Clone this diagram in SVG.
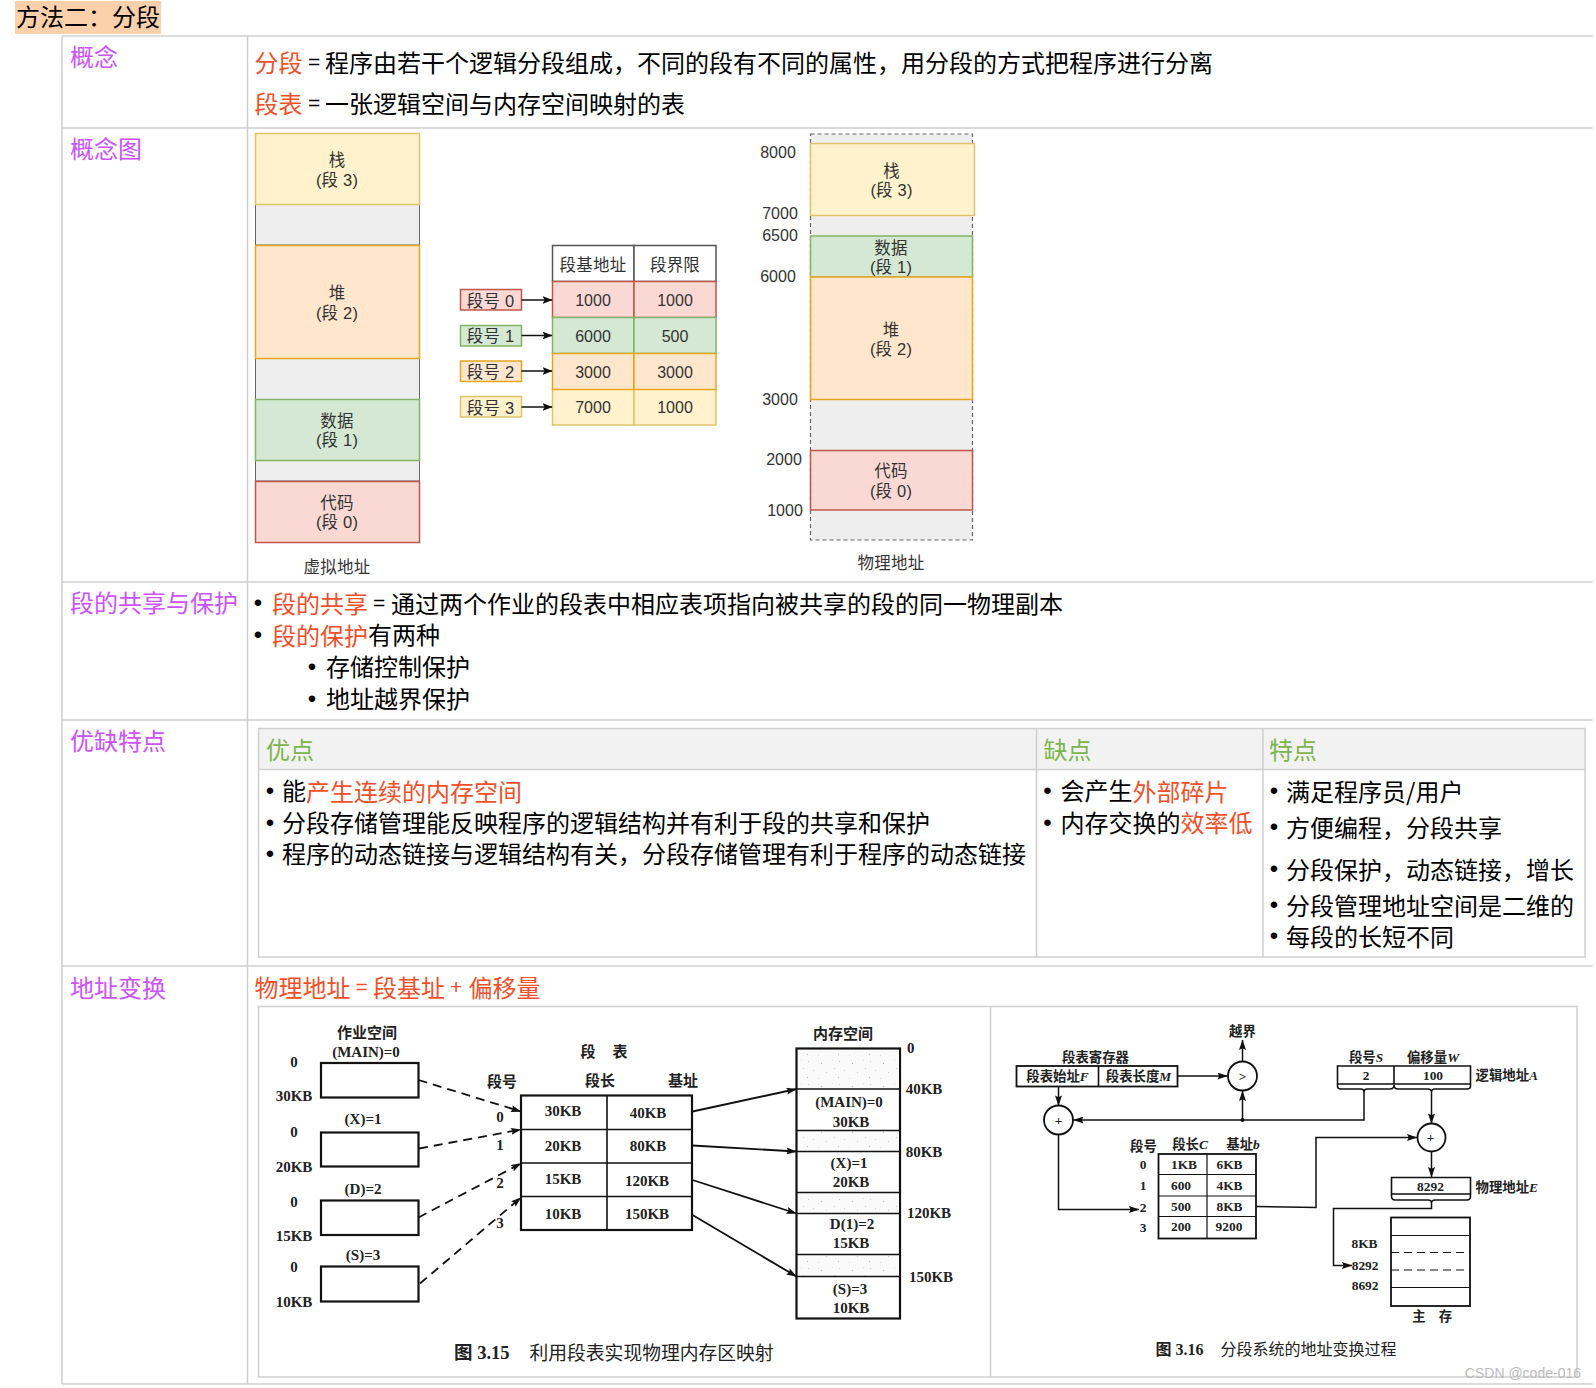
<svg xmlns="http://www.w3.org/2000/svg" width="1596" height="1388" viewBox="0 0 1596 1388">
<style>
text{font-family:"Noto Sans CJK SC","Noto Sans",sans-serif;white-space:pre}
.t,.h,.g{transform:translateY(-2.3px)}
.t{font-size:24px;fill:#000;dominant-baseline:central}
.h{font-size:24px;fill:#cc52ff;dominant-baseline:central}
.g{font-size:24px;fill:#7cb54e;dominant-baseline:central}
.r{fill:#f2502a}
.eq{font-family:"Liberation Sans",sans-serif;font-size:21px}
.b{font-size:24px;fill:#000;text-anchor:middle;dominant-baseline:central;font-family:"Liberation Sans",sans-serif;transform:translateY(-1.5px)}
.d{font-size:16px;fill:#333;text-anchor:middle;dominant-baseline:central;font-family:"Liberation Sans","Noto Sans CJK SC",sans-serif}
.dc{font-size:16.5px;letter-spacing:.2px}
.s{font-size:15px;font-weight:bold;fill:#222;text-anchor:middle;dominant-baseline:central;font-family:"Liberation Serif","Noto Sans CJK SC",serif}
.m{font-size:13.4px;font-weight:bold;fill:#222;text-anchor:middle;dominant-baseline:central;font-family:"Liberation Serif","Noto Sans CJK SC",serif;transform:translateY(-1px)}
.ml{text-anchor:start}.me{text-anchor:end}
.cap{font-weight:normal;text-anchor:start;fill:#222}
.line{stroke:#cfcfcf;stroke-width:1.5;fill:none}
.y{fill:#fff2cc;stroke:#e0c46c;stroke-width:1.5}
.o{fill:#ffe6cc;stroke:#e3a720;stroke-width:1.5}
.n{fill:#d5e8d4;stroke:#82b366;stroke-width:1.5}
.p{fill:#fad9d5;stroke:#c0584a;stroke-width:1.5}
.e{fill:#eeeeee;stroke:#666;stroke-width:1}
.w{fill:#fff;stroke:#555;stroke-width:1.5}
.k{fill:#fff;stroke:#111;stroke-width:2.2}
.kn{fill:none;stroke:#111;stroke-width:1.6}
.sp{fill:url(#speck);stroke:none}
.c{fill:none;stroke:#111;stroke-width:1.5}
.dash{stroke-dasharray:9 6;stroke-width:1.8}
</style>
<defs>
<marker id="a" viewBox="0 0 10 8" refX="9.5" refY="4" markerWidth="10" markerHeight="8" markerUnits="userSpaceOnUse" orient="auto"><path d="M0 0L10 4L0 8L2 4Z" fill="#111"/></marker>
<marker id="a2" viewBox="0 0 12 8" refX="11.5" refY="4" markerWidth="12" markerHeight="7" markerUnits="userSpaceOnUse" orient="auto"><path d="M0 0L12 4L0 8L2 4Z" fill="#111"/></marker>
<pattern id="speck" width="31" height="23" patternUnits="userSpaceOnUse">
<rect width="31" height="23" fill="#fafafa"/>
<rect x="2" y="3" width="1" height="1" fill="#ccc"/><rect x="15" y="5" width="1" height="1" fill="#bbb"/><rect x="26" y="2" width="1" height="1" fill="#ddd"/><rect x="7" y="12" width="1" height="1" fill="#ccc"/><rect x="20" y="14" width="1" height="1" fill="#ccc"/><rect x="1" y="19" width="1" height="1" fill="#bbb"/><rect x="12" y="20" width="1" height="1" fill="#ddd"/><rect x="28" y="10" width="1" height="1" fill="#ccc"/>
</pattern>
</defs>
<rect width="1596" height="1388" fill="#fff"/>

<g id="title"><rect x="15" y="1" width="146" height="33" fill="#fdd0ac"/><text class="t" x="16" y="18">方法二：分段</text></g>

<g id="grid" class="line">
<path d="M62 36H1593M62 128H1593M62 582H1593M62 720H1593M62 966H1593M62 1384H1593M62 36V1384M247.5 36V1384"/>
</g>

<g id="row-concept">
<text class="h" x="70" y="58">概念</text>
<text class="t r" x="254.5" y="63.5">分段</text><text class="t eq" x="308" y="63.5">=</text><text class="t" x="325" y="63.5">程序由若干个逻辑分段组成，不同的段有不同的属性，用分段的方式把程序进行分离</text>
<text class="t r" x="254.5" y="104.5">段表</text><text class="t eq" x="308" y="104.5">=</text><text class="t" x="325" y="104.5">一张逻辑空间与内存空间映射的表</text>
</g>

<g id="row-diagram"><text class="h" x="70" y="150">概念图</text></g>

<g id="virtual-address">
<g id="v-gap1"><rect class="e" x="255.5" y="204.5" width="164" height="40.5"/></g>
<g id="v-gap2"><rect class="e" x="255.5" y="358.5" width="164" height="41"/></g>
<g id="v-gap3"><rect class="e" x="255.5" y="460.5" width="164" height="20.5"/></g>
<g id="v-stack"><rect class="y" x="255.5" y="133.5" width="164" height="71"/><text class="d dc" x="337" y="160">栈</text><text class="d dc" x="337" y="180">(段 3)</text></g>
<g id="v-heap"><rect class="o" x="255.5" y="245.5" width="164" height="113"/><text class="d dc" x="337" y="293">堆</text><text class="d dc" x="337" y="313">(段 2)</text></g>
<g id="v-data"><rect class="n" x="255.5" y="399.5" width="164" height="61"/><text class="d dc" x="337" y="421">数据</text><text class="d dc" x="337" y="440">(段 1)</text></g>
<g id="v-code"><rect class="p" x="255.5" y="481.5" width="164" height="61"/><text class="d dc" x="337" y="503">代码</text><text class="d dc" x="337" y="522">(段 0)</text></g>
<text class="d dc" x="337" y="567">虚拟地址</text>
</g>

<g id="segment-table">
<g id="seg-head"><rect class="w" x="552.5" y="245.5" width="81.5" height="36"/><rect class="w" x="634" y="245.5" width="82" height="36"/><text class="d dc" x="593" y="264.5">段基地址</text><text class="d dc" x="675" y="264.5">段界限</text></g>
<g id="seg-0"><rect class="p" x="552.5" y="281.5" width="81.5" height="36"/><rect class="p" x="634" y="281.5" width="82" height="36"/><text class="d" x="593" y="300.5">1000</text><text class="d" x="675" y="300.5">1000</text></g>
<g id="seg-1"><rect class="n" x="552.5" y="317.5" width="81.5" height="36"/><rect class="n" x="634" y="317.5" width="82" height="36"/><text class="d" x="593" y="336">6000</text><text class="d" x="675" y="336">500</text></g>
<g id="seg-3"><rect class="y" x="552.5" y="389" width="81.5" height="36"/><rect class="y" x="634" y="389" width="82" height="36"/><text class="d" x="593" y="407.5">7000</text><text class="d" x="675" y="407.5">1000</text></g>
<g id="seg-2"><rect class="o" x="552.5" y="353.5" width="81.5" height="36"/><rect class="o" x="634" y="353.5" width="82" height="36"/><text class="d" x="593" y="372">3000</text><text class="d" x="675" y="372">3000</text></g>
<g id="no-0"><rect class="p" x="460.5" y="289.5" width="61" height="20.5"/><text class="d dc" x="490.5" y="300.5">段号 0</text></g>
<g id="no-1"><rect class="n" x="460.5" y="325.5" width="61" height="20.5"/><text class="d dc" x="490.5" y="336">段号 1</text></g>
<g id="no-2"><rect class="o" x="460.5" y="361" width="61" height="20.5"/><text class="d dc" x="490.5" y="372">段号 2</text></g>
<g id="no-3"><rect class="y" x="460.5" y="396.5" width="61" height="20.5"/><text class="d dc" x="490.5" y="407.5">段号 3</text></g>
</g>

<g id="physical-address">
<rect x="810.5" y="134" width="162" height="406" fill="#eeeeee" stroke="#666" stroke-width="1.2" stroke-dasharray="4 3"/>
<g id="p-stack"><rect class="y" x="810.5" y="143.5" width="164" height="72"/><text class="d dc" x="891.5" y="170.5">栈</text><text class="d dc" x="891.5" y="190">(段 3)</text></g>
<g id="p-data"><rect class="n" x="810.5" y="236" width="162" height="41"/><text class="d dc" x="891" y="247.5">数据</text><text class="d dc" x="891" y="266.5">(段 1)</text></g>
<g id="p-heap"><rect class="o" x="810.5" y="277" width="162" height="122.5"/><text class="d dc" x="891" y="329.5">堆</text><text class="d dc" x="891" y="348.5">(段 2)</text></g>
<g id="p-code"><rect class="p" x="810.5" y="450.5" width="162" height="59.5"/><text class="d dc" x="891" y="471">代码</text><text class="d dc" x="891" y="490.5">(段 0)</text></g>
<text class="d" x="778" y="152">8000</text><text class="d" x="780" y="213">7000</text><text class="d" x="780" y="235.5">6500</text><text class="d" x="778" y="276.5">6000</text><text class="d" x="780" y="399">3000</text><text class="d" x="784" y="459">2000</text><text class="d" x="785" y="510">1000</text>
<text class="d dc" x="891" y="563">物理地址</text>
</g>

<g id="row-share">
<text class="h" x="70" y="604">段的共享与保护</text>
<text class="b" x="258" y="604">•</text><text class="t r" x="272" y="604.5">段的共享</text><text class="t eq" x="373" y="604.5">=</text><text class="t" x="391" y="604.5">通过两个作业的段表中相应表项指向被共享的段的同一物理副本</text>
<text class="b" x="258" y="636">•</text><text class="t" x="272" y="636"><tspan class="r">段的保护</tspan>有两种</text>
<text class="b" x="312" y="668">•</text><text class="t" x="326" y="668">存储控制保护</text>
<text class="b" x="312" y="700">•</text><text class="t" x="326" y="700">地址越界保护</text>
</g>

<g id="row-features">
<text class="h" x="70" y="742">优缺特点</text>
<rect x="258.5" y="728.5" width="1326.5" height="41" fill="#f2f2f2"/>
<path class="line" d="M258.5 728.5H1585V957H258.5ZM258.5 769.5H1585M1036.5 728.5V957M1263 728.5V957"/>
<text class="g" x="266" y="750.5">优点</text><text class="g" x="1043.5" y="750.5">缺点</text><text class="g" x="1269" y="750.5">特点</text>
<g id="pros">
<text class="b" x="270" y="792">•</text><text class="t" x="282" y="792">能<tspan class="r">产生连续的内存空间</tspan></text>
<text class="b" x="270" y="823.5">•</text><text class="t" x="282" y="823.5">分段存储管理能反映程序的逻辑结构并有利于段的共享和保护</text>
<text class="b" x="270" y="855">•</text><text class="t" x="282" y="855">程序的动态链接与逻辑结构有关，分段存储管理有利于程序的动态链接</text>
</g>
<g id="cons">
<text class="b" x="1047.5" y="792">•</text><text class="t" x="1060.5" y="792">会产生<tspan class="r">外部碎片</tspan></text>
<text class="b" x="1047.5" y="823.5">•</text><text class="t" x="1060.5" y="823.5">内存交换的<tspan class="r">效率低</tspan></text>
</g>
<g id="traits">
<text class="b" x="1274" y="792">•</text><text class="t" x="1286" y="793">满足程序员/用户</text>
<text class="b" x="1274" y="828">•</text><text class="t" x="1286" y="829">方便编程，分段共享</text>
<text class="b" x="1274" y="870">•</text><text class="t" x="1286" y="871">分段保护，动态链接，增长</text>
<text class="b" x="1274" y="906">•</text><text class="t" x="1286" y="907">分段管理地址空间是二维的</text>
<text class="b" x="1274" y="937">•</text><text class="t" x="1286" y="938">每段的长短不同</text>
</g>
</g>

<g id="row-translate">
<text class="h" x="70" y="988.5">地址变换</text>
<text class="t r" x="254.5" y="988.5">物理地址</text><text class="t r eq" x="355.5" y="988.5">=</text><text class="t r" x="373" y="988.5">段基址</text><text class="t r eq" x="450" y="988.5">+</text><text class="t r" x="468.5" y="988.5">偏移量</text>
<path class="line" d="M258.5 1006.5H1577V1377H258.5ZM990.5 1006.5V1377"/>
</g>

<g id="fig315">
<g id="job-main"><rect class="k" x="321" y="1063" width="97.5" height="34.5"/><text class="s" x="367" y="1033">作业空间</text><text class="s" x="366" y="1052">(MAIN)=0</text><text class="s" x="294" y="1062">0</text><text class="s" x="294" y="1096">30KB</text></g>
<g id="job-x"><rect class="k" x="321" y="1132.5" width="97.5" height="34"/><text class="s" x="363" y="1119">(X)=1</text><text class="s" x="294" y="1132">0</text><text class="s" x="294" y="1167">20KB</text></g>
<g id="job-d"><rect class="k" x="321" y="1200.5" width="97.5" height="34.5"/><text class="s" x="363" y="1189">(D)=2</text><text class="s" x="294" y="1202">0</text><text class="s" x="294" y="1236">15KB</text></g>
<g id="job-s"><rect class="k" x="321" y="1266.5" width="97.5" height="35"/><text class="s" x="363" y="1255">(S)=3</text><text class="s" x="294" y="1267">0</text><text class="s" x="294" y="1302">10KB</text></g>
<g id="table315">
<rect class="k" x="521" y="1095.5" width="171" height="134.5"/>
<path class="kn" d="M521 1129.5H692M521 1163H692M521 1196.5H692M607 1095.5V1230"/>
<text class="s" x="588" y="1052">段</text><text class="s" x="620" y="1052">表</text><text class="s" x="502" y="1082">段号</text><text class="s" x="600" y="1081">段长</text><text class="s" x="683" y="1081">基址</text>
<text class="s" x="500" y="1117">0</text><text class="s" x="500" y="1145">1</text><text class="s" x="500" y="1183">2</text><text class="s" x="500" y="1223">3</text>
<text class="s" x="563" y="1111">30KB</text><text class="s" x="648" y="1113">40KB</text>
<text class="s" x="563" y="1146">20KB</text><text class="s" x="648" y="1146">80KB</text>
<text class="s" x="563" y="1179">15KB</text><text class="s" x="647" y="1181">120KB</text>
<text class="s" x="563" y="1214">10KB</text><text class="s" x="647" y="1214">150KB</text>
</g>
<g id="memory315">
<rect class="k" x="796.5" y="1048.5" width="103.5" height="270"/>
<rect class="sp" x="798" y="1050" width="101" height="38"/><rect class="sp" x="798" y="1131.5" width="101" height="19.5"/><rect class="sp" x="798" y="1193.5" width="101" height="19"/><rect class="sp" x="798" y="1255" width="101" height="21"/>
<path class="kn" d="M796.5 1089H900M796.5 1130.5H900M796.5 1151.5H900M796.5 1192.5H900M796.5 1213.5H900M796.5 1254.5H900M796.5 1276.5H900"/>
<text class="s" x="843" y="1034">内存空间</text><text class="s ml" x="907" y="1048">0</text>
<text class="s" x="924" y="1089">40KB</text><text class="s" x="924" y="1152">80KB</text><text class="s" x="929" y="1213">120KB</text><text class="s" x="931" y="1277">150KB</text>
<text class="s" x="849" y="1102">(MAIN)=0</text><text class="s" x="851" y="1122">30KB</text>
<text class="s" x="849" y="1163">(X)=1</text><text class="s" x="851" y="1182">20KB</text>
<text class="s" x="852" y="1224">D(1)=2</text><text class="s" x="851" y="1243">15KB</text>
<text class="s" x="850" y="1289">(S)=3</text><text class="s" x="851" y="1308">10KB</text>
</g>
<text class="s ml" style="font-size:18.5px" x="454" y="1353">图 3.15</text><text class="s cap" style="font-size:18.8px" x="529.5" y="1353">利用段表实现物理内存区映射</text>
</g>

<g id="fig316">
<g id="register"><rect class="k" x="1016.5" y="1066" width="161" height="20.5" style="stroke-width:1.8"/><path class="kn" d="M1098.5 1066V1086.5"/><text class="m" x="1095.5" y="1058">段表寄存器</text><text class="m" x="1057.5" y="1077">段表始址<tspan font-style="italic">F</tspan></text><text class="m" x="1138.5" y="1077">段表长度<tspan font-style="italic">M</tspan></text></g>
<g id="cmp"><circle class="k" style="stroke-width:1.8" cx="1242.5" cy="1076" r="14.5"/><text class="m" x="1242.5" y="1077">&gt;</text><text class="m" x="1242.5" y="1032">越界</text></g>
<g id="add1"><circle class="k" style="stroke-width:1.8" cx="1058.5" cy="1120" r="14.5"/><text class="m" x="1058.5" y="1121">+</text></g>
<g id="add2"><circle class="k" style="stroke-width:1.8" cx="1431.5" cy="1137.5" r="14"/><text class="m" x="1430.5" y="1138">+</text></g>
<g id="table316">
<rect class="k" style="stroke-width:1.8" x="1158.5" y="1154" width="97.5" height="84.5"/>
<path class="kn" d="M1158.5 1174.5H1256M1158.5 1196H1256M1158.5 1216.5H1256M1207 1154V1238.5" style="stroke-width:1.2"/>
<text class="m" x="1143.5" y="1147">段号</text><text class="m" x="1190" y="1145">段长<tspan font-style="italic">C</tspan></text><text class="m" x="1243" y="1145">基址<tspan font-style="italic">b</tspan></text>
<text class="m" x="1143" y="1165.5">0</text><text class="m" x="1143" y="1186.5">1</text><text class="m" x="1143" y="1208">2</text><text class="m" x="1143" y="1228.5">3</text>
<text class="m" x="1184" y="1165">1KB</text><text class="m" x="1229.5" y="1165">6KB</text>
<text class="m" x="1181" y="1186">600</text><text class="m" x="1229.5" y="1186">4KB</text>
<text class="m" x="1181" y="1207">500</text><text class="m" x="1229.5" y="1207">8KB</text>
<text class="m" x="1181" y="1227">200</text><text class="m" x="1229" y="1227">9200</text>
</g>
<g id="logical">
<path class="kn" d="M1337.5 1084V1066H1470.5V1084M1337.5 1084H1470.5M1394 1066V1084M1337.5 1084V1086Q1337.5 1089 1341 1089H1361Q1364 1089 1364 1092Q1364 1089 1367 1089H1390Q1394 1089 1394 1085Q1394 1089 1398 1089H1428Q1431.5 1089 1431.5 1092Q1431.5 1089 1435 1089H1467Q1470.5 1089 1470.5 1086V1084"/>
<text class="m" x="1366" y="1058">段号<tspan font-style="italic">S</tspan></text><text class="m" x="1433" y="1058">偏移量<tspan font-style="italic">W</tspan></text><text class="m" x="1366" y="1076">2</text><text class="m" x="1433" y="1076">100</text><text class="m ml" x="1475.5" y="1076">逻辑地址<tspan font-style="italic">A</tspan></text>
</g>
<g id="physical">
<path class="kn" d="M1391.5 1194V1177.5H1470.5V1194M1391.5 1194H1470.5M1391.5 1194V1196Q1391.5 1200 1395 1200H1428Q1431.5 1200 1431.5 1203Q1431.5 1200 1435 1200H1467Q1470.5 1200 1470.5 1196V1194"/>
<text class="m" x="1430.5" y="1187.5">8292</text><text class="m ml" x="1475.5" y="1188">物理地址<tspan font-style="italic">E</tspan></text>
</g>
<g id="mainmem">
<rect class="k" style="stroke-width:1.8" x="1391" y="1217.5" width="79" height="88.5"/>
<path class="kn" d="M1391 1235.5H1470M1391 1287.5H1470" style="stroke-width:1.2"/>
<path class="kn" d="M1391 1252.5H1470M1391 1270H1470" style="stroke-width:1.2;stroke-dasharray:8 5"/>
<text class="m me" x="1377.5" y="1244.5">8KB</text><text class="m me" x="1378.5" y="1266">8292</text><text class="m me" x="1378.5" y="1286.5">8692</text>
<text class="m" x="1419" y="1317.5">主</text><text class="m" x="1445.5" y="1317.5">存</text>
</g>
<text class="s ml" style="font-size:16px" x="1155.5" y="1349">图 3.16</text><text class="s cap" style="font-size:16px" x="1220.5" y="1349">分段系统的地址变换过程</text>
</g>

<g id="connectors">
<path class="c" d="M521.5 300H552" marker-end="url(#a)"/>
<path class="c" d="M521.5 335.5H552" marker-end="url(#a)"/>
<path class="c" d="M521.5 371H552" marker-end="url(#a)"/>
<path class="c" d="M521.5 407H552" marker-end="url(#a)"/>
<path class="c dash" d="M418.5 1080L521 1111.5" marker-end="url(#a2)"/>
<path class="c dash" d="M419 1148.5L521 1129.5" marker-end="url(#a2)"/>
<path class="c dash" d="M418.5 1217.5L521 1163.5" marker-end="url(#a2)"/>
<path class="c dash" d="M420 1283.5L521 1197.5" marker-end="url(#a2)"/>
<path class="c" style="stroke-width:1.8" d="M692.5 1111.5L796.5 1089" marker-end="url(#a2)"/>
<path class="c" style="stroke-width:1.8" d="M692.5 1145.5L796.5 1151.5" marker-end="url(#a2)"/>
<path class="c" style="stroke-width:1.8" d="M692.5 1180L796.5 1213.5" marker-end="url(#a2)"/>
<path class="c" style="stroke-width:1.8" d="M692.5 1215L796.5 1276.5" marker-end="url(#a2)"/>
<path class="c" d="M1177.5 1076H1227.5" marker-end="url(#a2)"/>
<path class="c" d="M1242.5 1061.5V1040" marker-end="url(#a2)"/>
<path class="c" d="M1242.5 1120V1091" marker-end="url(#a2)"/>
<circle cx="1242.5" cy="1120" r="2" fill="#111"/>
<path class="c" d="M1058.5 1087V1105.5" marker-end="url(#a2)"/>
<path class="c" d="M1364 1092V1120H1073.5" marker-end="url(#a2)"/>
<path class="c" d="M1058.5 1134.5V1209.5H1139" marker-end="url(#a2)"/>
<path class="c" d="M1256 1206.5L1316 1207.5V1137.5H1417" marker-end="url(#a2)"/>
<path class="c" d="M1431.5 1092V1123.5" marker-end="url(#a2)"/>
<path class="c" d="M1431.5 1151.5V1177" marker-end="url(#a2)"/>
<path class="c" d="M1431.5 1203V1208.5H1333.5V1265.5H1352" marker-end="url(#a2)"/>
</g>

<text x="1581" y="1373" text-anchor="end" dominant-baseline="central" fill="#bbb" style="font-family:'Liberation Sans',sans-serif;font-size:14px">CSDN @code-016</text>
</svg>
